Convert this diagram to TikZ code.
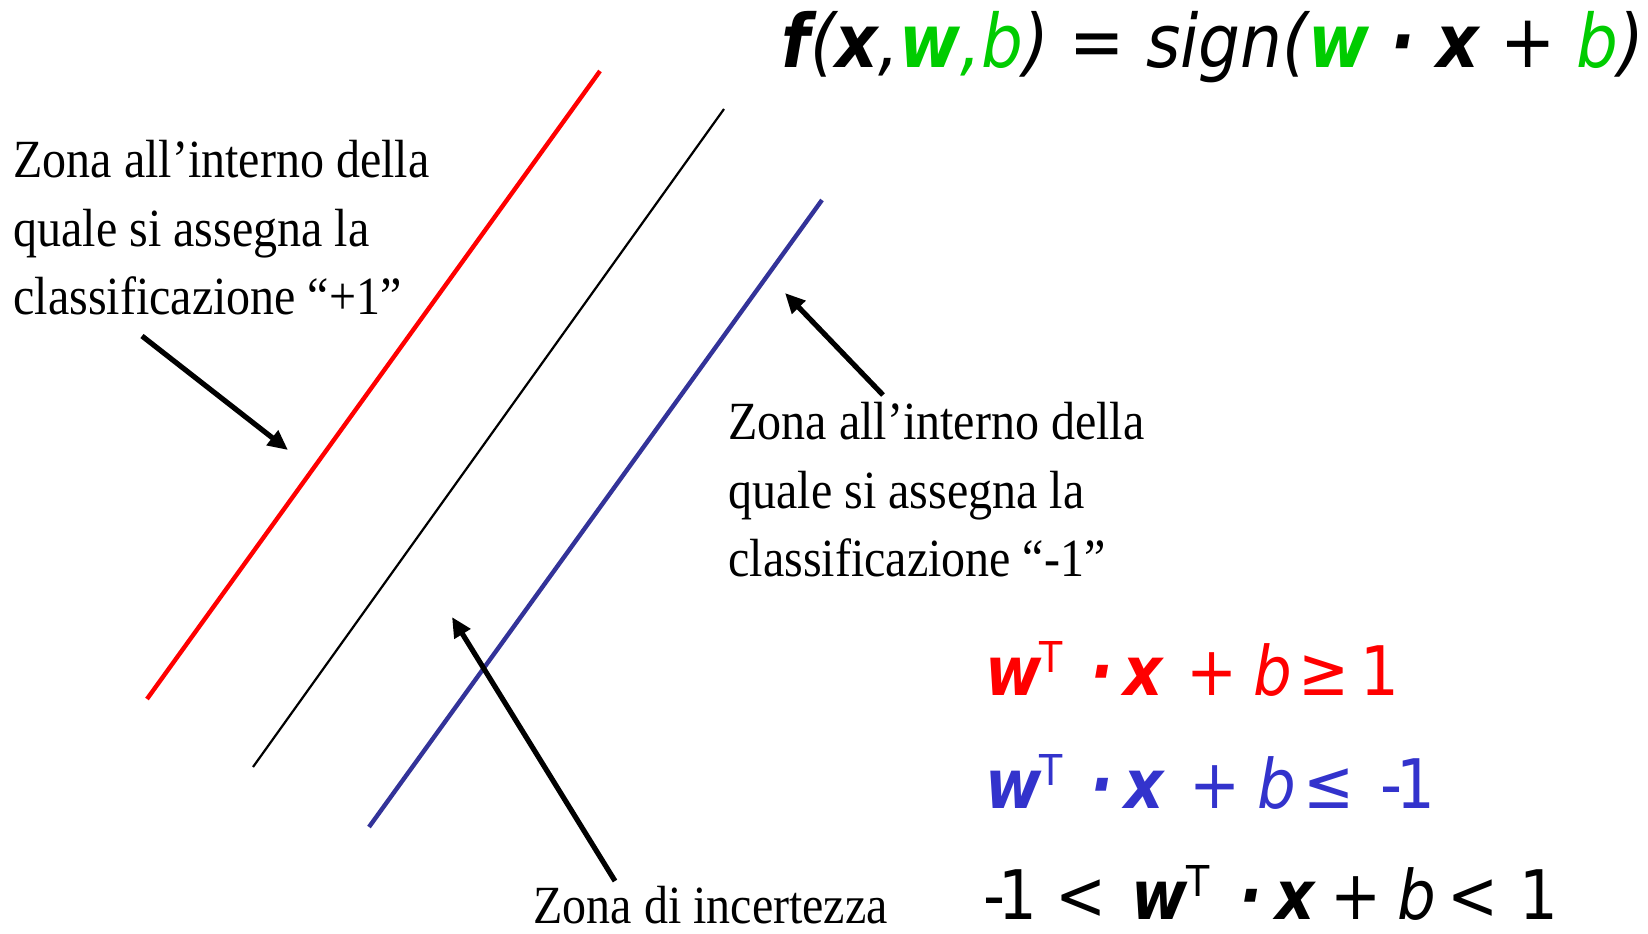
\documentclass[tikz,border=0pt]{standalone}
\usepackage{fontspec}
\setmainfont{Liberation Serif}
\newfontfamily\verdfont{DejaVu Sans}
\usetikzlibrary{arrows.meta}

\definecolor{planered}{RGB}{255,0,0}
\definecolor{planeblue}{RGB}{51,51,153}
\definecolor{ineqblue}{RGB}{51,51,204}
\definecolor{coefgreen}{RGB}{0,204,0}

\newcommand{\bivec}[1]{\textbf{\textit{#1}}}
\newcommand{\tall}[1]{\scalebox{1}[1.12]{#1}}
\newcommand{\supT}{\kern-0.04em\raisebox{10pt}{\fontsize{19}{19}\selectfont T}}

\begin{document}
\begin{tikzpicture}[x=0.5pt,y=-0.5pt,
    zone/.style={font=\fontsize{24}{30.8}\selectfont, inner sep=0pt, anchor=base west},
    ineq/.style={font=\verdfont\fontsize{30.5}{30.5}\selectfont, inner sep=0pt, anchor=base west},
    pointer/.style={-{Triangle[length=10pt,width=9pt]}, line width=2.6pt}]

    \useasboundingbox (0,0) rectangle (1648,933);

    % Margin planes and separating hyperplane
    \draw[planered, line width=2.2pt] (147,699) -- (600,71);
    \draw[black, line width=1.1pt] (253,767) -- (724,109);
    \draw[planeblue, line width=2.2pt] (369,827) -- (822,200);

    % Decision function
    \node[inner sep=0pt, anchor=base west, font=\verdfont\fontsize{33}{33}\selectfont\itshape] (signfn) at (781,67)
        {\tall{\textbf{f}(\textbf{x},\textcolor{coefgreen}{\textbf{w},b}) = sign(\textcolor{coefgreen}{\textbf{w}} \textbf{·} \textbf{x} + \textcolor{coefgreen}{b})}};

    % Zone labels
    \node[zone] (zonepos) at (13,177)
        {\tall{\begin{tabular}[t]{@{}l@{}}Zona all’interno della\\quale si assegna la\\classificazione “+1”\end{tabular}}};
    \node[zone] (zoneneg) at (728,439)
        {\tall{\begin{tabular}[t]{@{}l@{}}Zona all’interno della\\quale si assegna la\\classificazione “-1”\end{tabular}}};
    \node[zone] (zonemid) at (533,923) {\tall{Zona di incertezza}};

    % Pointers
    \coordinate (postail) at (142,336);
    \coordinate (poshead) at (288,450);
    \coordinate (negtail) at (883,395);
    \coordinate (neghead) at (785,293);
    \coordinate (midtail) at (615,881);
    \coordinate (midhead) at (452,617);
    \draw[pointer] (postail) -- (poshead);
    \draw[pointer] (negtail) -- (neghead);
    \draw[pointer] (midtail) -- (midhead);

    % Inequalities
    \node[ineq, text=planered] (ineqpos) at (985,695)
        {\tall{\bivec{w}\supT\hspace{0.45em}\bivec{·}\hspace{0.17em}\bivec{x}\hspace{0.36em}+\hspace{0.26em}\textit{b}\hspace{0.1em}≥\hspace{0.18em}1}};
    \node[ineq, text=ineqblue] (ineqneg) at (985,808)
        {\tall{\bivec{w}\supT\hspace{0.45em}\bivec{·}\hspace{0.19em}\bivec{x}\hspace{0.39em}+\hspace{0.28em}\textit{b}\hspace{0.12em}≤\hspace{0.42em}-\kern-0.1em1}};
    \node[ineq] (ineqmid) at (983,919)
        {\tall{-\kern-0.12em1\hspace{0.3em}<\hspace{0.42em}\bivec{w}\supT\hspace{0.5em}\bivec{·}\hspace{0.2em}\bivec{x}\hspace{0.24em}+\hspace{0.26em}\textit{b}\hspace{0.18em}<\hspace{0.34em}1}};
\end{tikzpicture}
\end{document}
